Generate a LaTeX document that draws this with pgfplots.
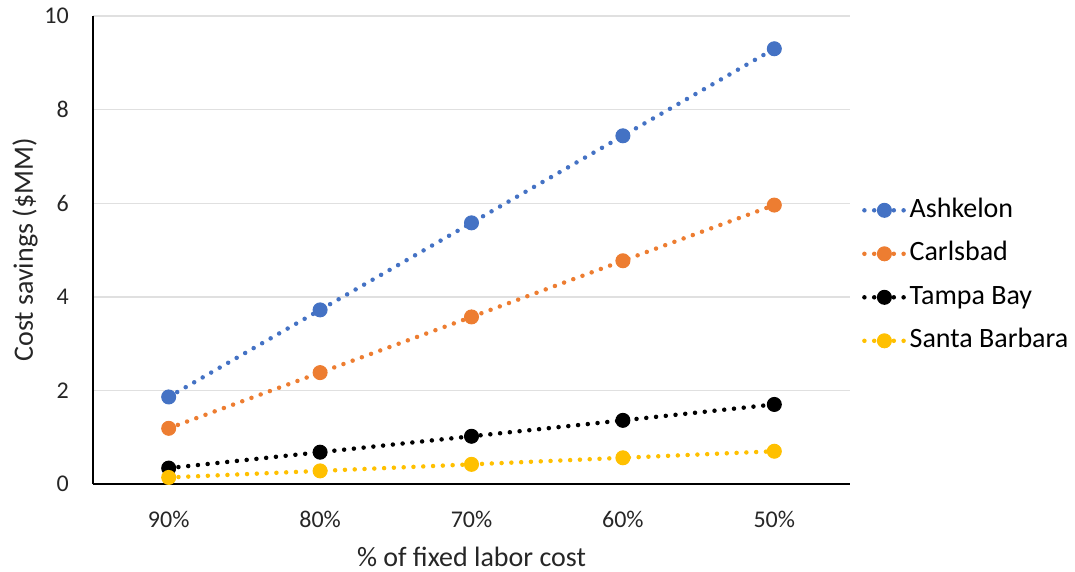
\documentclass[border=0pt]{standalone}
\usepackage{pgfplots}
\pgfplotsset{compat=1.18}
\usepackage{fontspec}
\setmainfont{Carlito}
\definecolor{cblue}{HTML}{4472C4}
\definecolor{corange}{HTML}{ED7D31}
\definecolor{cgold}{HTML}{FFC000}
\begin{document}
\begin{tikzpicture}
\begin{axis}[
  scale only axis,
  width=757pt, height=468pt,
  xmin=-0.5, xmax=4.5, ymin=0, ymax=10,
  xtick={0,1,2,3,4},
  xticklabels={90\%,80\%,70\%,60\%,50\%},
  ytick={0,2,4,6,8,10},
  ymajorgrids,
  grid style={draw=black!12, line width=1.4pt},
  major tick length=0pt,
  axis x line*=bottom, axis y line*=left,
  axis line style={line width=1.8pt, -},
  tick label style={font=\fontsize{24}{28}\selectfont, text=black!85, inner sep=0pt},
  /pgf/number format/assume math mode=true,
  xticklabel style={anchor=base, yshift=-43pt},
  yticklabel style={anchor=east, xshift=-24pt},
  xlabel={\% of fixed labor cost},
  ylabel={Cost savings (\$MM)},
  label style={font=\fontsize{28}{32}\selectfont, text=black!85, inner sep=0pt},
  xlabel style={at={(axis description cs:0.5,0)}, anchor=base, yshift=-82pt},
  ylabel style={at={(axis description cs:0,0.5)}, anchor=base, yshift=60pt},
  every axis plot/.append style={line width=4.5pt, dash pattern=on 0pt off 9.8pt, line cap=round, mark=*, mark size=7pt, mark options={solid, line width=1pt}},
  legend image code/.code={\draw[mark repeat=2,mark phase=2] plot coordinates {(0pt,0pt) (20pt,0pt) (40pt,0pt)};},
  legend style={at={(rel axis cs:1.0158,0.613)}, anchor=north west, draw=none, fill=none,
    font=\fontsize{28}{32}\selectfont, row sep=17.5pt, inner sep=0pt,
    nodes={inner ysep=0pt, inner xsep=3pt, text height=20pt, text depth=6pt}},
  legend cell align=left,
  clip=false,
]
\addplot[color=cblue] coordinates {(0,1.86) (1,3.72) (2,5.58) (3,7.44) (4,9.30)};
\addplot[color=corange] coordinates {(0,1.19) (1,2.38) (2,3.57) (3,4.77) (4,5.96)};
\addplot[color=black] coordinates {(0,0.34) (1,0.68) (2,1.02) (3,1.36) (4,1.70)};
\addplot[color=cgold] coordinates {(0,0.14) (1,0.28) (2,0.42) (3,0.56) (4,0.70)};
\legend{Ashkelon,Carlsbad,Tampa Bay,Santa Barbara}
\end{axis}
\path[use as bounding box] (-93pt,-87pt) rectangle (982pt,484pt);
\end{tikzpicture}
\end{document}
